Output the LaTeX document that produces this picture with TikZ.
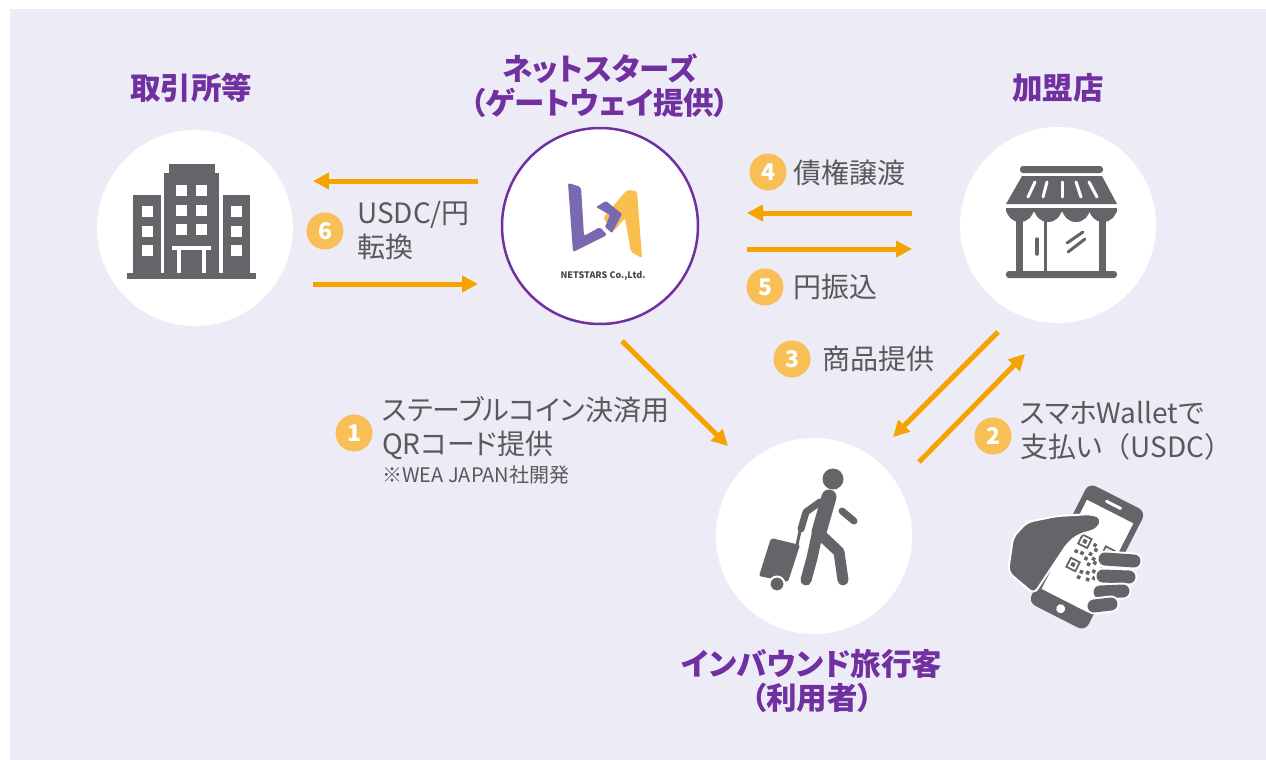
\documentclass[tikz,border=0pt]{standalone}
\usepackage{fontspec}
\setmainfont{Noto Sans CJK JP}
\newfontfamily\titlefont[RawFeature=+palt]{Noto Sans CJK JP}
\newfontfamily\lblfont[RawFeature=+palt]{Noto Sans CJK JP}
\usetikzlibrary{arrows.meta}

\definecolor{bgcol}{HTML}{EDEBF6}
\definecolor{titlecol}{HTML}{7030A0}
\definecolor{txtcol}{HTML}{595959}
\definecolor{iconcol}{HTML}{646569}
\definecolor{flowcol}{HTML}{F5A300}
\definecolor{numcol}{HTML}{F9BF57}
\definecolor{logopurple}{HTML}{7A68B0}
\definecolor{logoyellow}{HTML}{F9BE4C}

\begin{document}
\begin{tikzpicture}[x=1pt,y=-1pt,
    hub/.style={circle, fill=white, minimum size=196pt, inner sep=0pt},
    title/.style={text=titlecol, font=\titlefont\bfseries\fontsize{30.5}{34}\selectfont, align=center, inner sep=0pt},
    lbl/.style={text=txtcol, font=\lblfont\fontsize{28}{34}\selectfont, align=left, anchor=west, inner sep=0pt},
    num/.style={circle, fill=numcol, minimum size=37pt, inner sep=0pt, text=white, font=\bfseries\fontsize{23}{23}\selectfont},
    flow/.style={draw=flowcol, line width=5pt, -{Triangle[length=16pt,width=16pt]}},
    icon/.style={fill=iconcol},
    limb/.style={draw=iconcol, line cap=round, line join=round}]
    \useasboundingbox (0,0) rectangle (1266,760);
    \fill[bgcol] (10,9) rectangle (1266,760);

    % the four parties
    \node[hub] (bank) at (195,228) {};
    \node[hub, draw=titlecol, line width=2.5pt] (gw) at (600,226) {};
    \node[hub] (shop) at (1058,225) {};
    \node[hub] (guest) at (814,536) {};

    \node[title] (bankT) at (191,88) {取引所等};
    \node[title] (gwT) at (600,86) {ネットスターズ\\（ゲートウェイ提供）};
    \node[title] (shopT) at (1058,88) {加盟店};
    \node[title] (guestT) at (812,681) {インバウンド旅行客\\（利用者）};

    % building
    \fill[icon] (127,273) rectangle (256,279);
    \fill[icon] (164,173) rectangle (219,274);
    \fill[icon] (169,164) rectangle (215,174);
    \fill[icon] (133,195) rectangle (161,274);
    \fill[icon] (223,195) rectangle (250,274);
    \foreach \x in {176,196}
        \foreach \y in {185,205,224}
            \fill[white] (\x,\y) rectangle ++(11,11);
    \foreach \y in {206,226,245} {
        \fill[white] (142,\y) rectangle ++(11,11);
        \fill[white] (231,\y) rectangle ++(11,11);
    }
    \fill[white] (172,246) rectangle (211,250);
    \fill[white] (177,250) rectangle (206,273);
    \fill[icon] (181,250) rectangle (202,273);

    % netstars logo
    \fill[logopurple, rounded corners=2pt] (568,183) -- (581,187) -- (584,236) -- (600,227) -- (607,235) -- (573,252) -- cycle;
    \fill[logoyellow, rounded corners=2pt] (603,218) -- (627,190) -- (637,191) -- (642,258) -- (631,252) -- (625,218) -- (614,231) -- cycle;
    \fill[logopurple, rounded corners=1pt] (596,207) -- (606,201) -- (622,214) -- (612,233) -- (605,227) -- (610,215) -- cycle;
    \node[font=\bfseries\fontsize{9}{9}\selectfont, text=iconcol!70!black] (gwname) at (603,276) {NETSTARS Co.,Ltd.};

    % shop
    \fill[icon, rounded corners=3pt] (1020,166) rectangle (1103,173);
    \fill[icon] (1022,176) -- (1102,176) -- (1117,204) -- (1006,204) -- cycle;
    \foreach \a/\b in {1035/1028,1047/1043,1062/1062,1076/1081,1089/1097}
        \draw[white, line width=3pt, line cap=round] (\a,182) -- (\b,197);
    \fill[icon] (1006,208) rectangle (1117,212);
    \foreach \x in {1006,1034,1062,1089}
        \fill[icon] (\x,208) arc[start angle=180, end angle=0, radius=14];
    \fill[icon] (1016,218) rectangle (1023,273);
    \fill[icon] (1099,218) rectangle (1106,273);
    \fill[icon] (1044,218) rectangle (1047,273);
    \draw[iconcol, line width=3.5pt, line cap=round] (1037,239) -- (1037,254);
    \draw[iconcol, line width=3pt, line cap=round] (1067,243) -- (1083,232);
    \draw[iconcol, line width=3pt, line cap=round] (1068,252) -- (1085,239);
    \fill[icon, rounded corners=3pt] (1006,271) rectangle (1117,278);

    % traveller
    \fill[icon] (833,479) circle (10.5);
    \draw[limb, line width=15pt] (829,497) -- (819,532);
    \draw[limb, line width=11pt] (817,535) -- (812,558) -- (806,580);
    \draw[limb, line width=11pt] (821,535) -- (839,552) -- (843,580);
    \draw[limb, line width=7pt] (820,502) -- (806,512) -- (801,529);
    \draw[limb, line width=7pt] (842,511) -- (854,521);
    \draw[limb, line width=3pt] (797,545) -- (800,531);
    \fill[icon, rounded corners=2pt] (771,538) -- (800,545) -- (788,582) -- (759,576) -- cycle;
    \fill[icon, draw=white, line width=2pt] (777,584) circle (7.5);

    % phone in hand
    \begin{scope}[shift={(1087,557)}, rotate=-27]
        \fill[icon, rounded corners=8pt] (-32,-67) rectangle (32,67);
        \fill[white] (-26,-51) rectangle (26,49);
        \fill[white, rounded corners=1pt] (-9,-60) rectangle (9,-57);
        \fill[white] (0,58) circle (4.5);
        \foreach \u/\v in {-14/-18,12/-18,-14/8} {
            \draw[iconcol, line width=1.8pt] (\u,\v) rectangle ++(10,10);
            \fill[icon] (\u+3,\v+3) rectangle ++(4,4);
        }
        \foreach \u/\v in {0/-16,3/-12,0/-6,5/-3,-2/0,-8/-3,-14/-2,3/4,8/0,13/-3,17/3,11/8,6/12,0/14,14/14,18/10,0/20,9/18}
            \fill[icon] (\u,\v) rectangle ++(3.5,3.5);
    \end{scope}
    \fill[icon, draw=white, line width=2pt, rounded corners=6pt] (1008,572) -- (1013,537) -- (1027,522) -- (1057,516) -- (1092,514) -- (1102,518) -- (1098,529) -- (1078,535) -- (1068,543) -- (1058,558) -- (1034,594) -- cycle;
    \foreach \a/\b/\c/\d in {1105/559/1134/561,1103/576/1129/577,1100/592/1123/591,1094/606/1111/604} {
        \draw[white, line width=17pt, line cap=round] (\a,\b) -- (\c,\d);
        \draw[iconcol, line width=13pt, line cap=round] (\a,\b) -- (\c,\d);
    }

    % flows
    \coordinate (x6a) at (478,181);
    \coordinate (x6b) at (313,181);
    \coordinate (x6c) at (313,284);
    \coordinate (x6d) at (478,284);
    \coordinate (x4a) at (912,213);
    \coordinate (x4b) at (747,213);
    \coordinate (x5a) at (747,249);
    \coordinate (x5b) at (912,249);
    \coordinate (x1a) at (622,341);
    \coordinate (x1b) at (728,446);
    \coordinate (x3a) at (998,332);
    \coordinate (x3b) at (893,437);
    \coordinate (x2a) at (919,462);
    \coordinate (x2b) at (1025,354);
    \draw[flow] (x6a) -- (x6b);
    \draw[flow] (x6c) -- (x6d);
    \draw[flow] (x4a) -- (x4b);
    \draw[flow] (x5a) -- (x5b);
    \draw[flow] (x1a) -- (x1b);
    \draw[flow] (x3a) -- (x3b);
    \draw[flow] (x2a) -- (x2b);

    % step labels
    \node[num] (n1) at (354,433) {1};
    \node[lbl] (t1) at (382,428) {ステーブルコイン決済用\\QRコード提供};
    \node[lbl, font=\lblfont\fontsize{20}{22}\selectfont] (t1n) at (382,475) {※WEA JAPAN社開発};
    \node[num] (n2) at (993,436) {2};
    \node[lbl] (t2) at (1020,431) {スマホWalletで\\支払い{\rmfamily （}USDC{\rmfamily ）}};
    \node[num] (n3) at (792,359) {3};
    \node[lbl] (t3) at (822,359) {商品提供};
    \node[num] (n4) at (768,172) {4};
    \node[lbl] (t4) at (793,173) {債権譲渡};
    \node[num] (n5) at (765,287) {5};
    \node[lbl] (t5) at (793,287) {円振込};
    \node[num] (n6) at (325,231) {6};
    \node[lbl] (t6) at (357,231) {USDC/円\\転換};
\end{tikzpicture}
\end{document}
